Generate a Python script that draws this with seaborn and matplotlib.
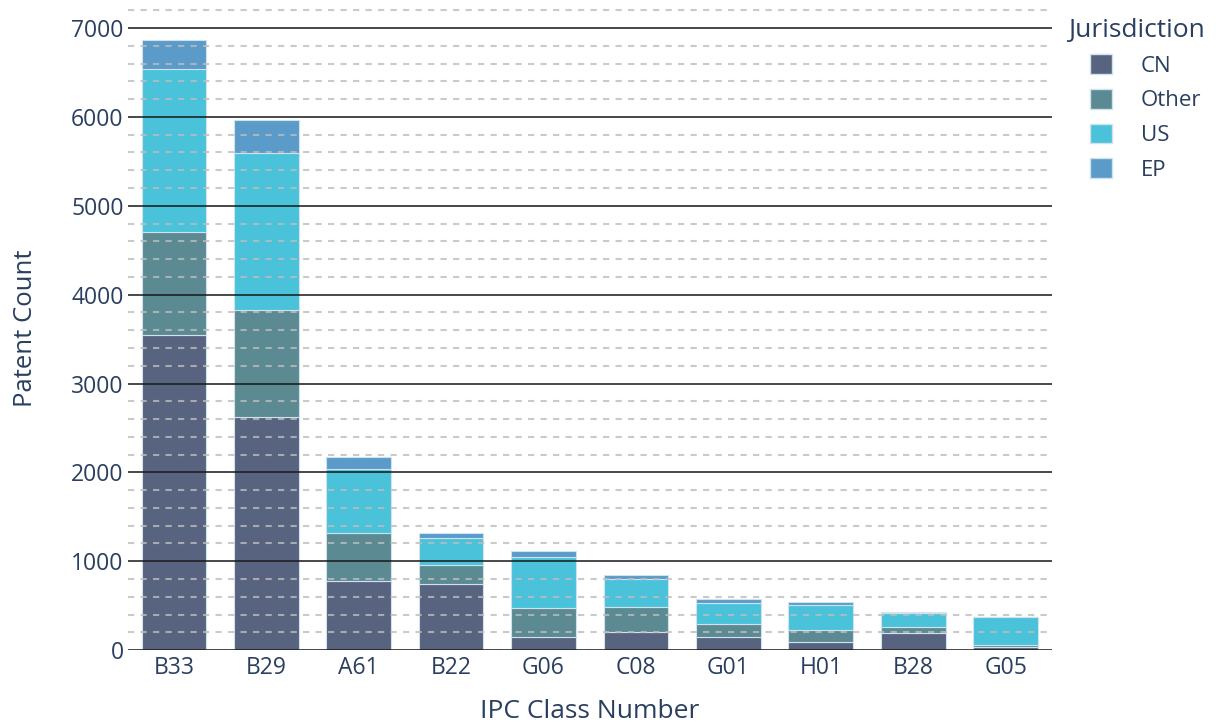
import matplotlib
matplotlib.use("Agg")
import matplotlib.pyplot as plt
from matplotlib.patches import Patch
from matplotlib.ticker import MultipleLocator
import seaborn as sns
import pandas as pd

categories = ["B33", "B29", "A61", "B22", "G06", "C08", "G01", "H01", "B28", "G05"]
cn    = [3550, 2622, 776, 743, 150, 206, 150, 94, 188, 30]
other = [1160, 1204, 537, 214, 319, 282, 143, 131, 67, 23]
us    = [1830, 1763, 724, 307, 574, 307, 240, 281, 165, 317]
ep    = [325, 381, 139, 49, 75, 49, 37, 38, 11, 5]

series_names = ["CN", "Other", "US", "EP"]
series_vals = [cn, other, us, ep]
colors = ["#58647f", "#5b8a93", "#4ac2da", "#5a9bc9"]

sns.set_theme(style="white")
plt.rcParams["font.family"] = ["Open Sans", "DejaVu Sans"]
text_color = "#2a3f5f"

W, H = 1216, 724
fig = plt.figure(figsize=(W / 100, H / 100), dpi=100)
ax = fig.add_axes([0.105, 0.102, 0.76, 0.89])

bottom = [0] * len(categories)
for name, vals, col in zip(series_names, series_vals, colors):
    df = pd.DataFrame({"cat": categories, "val": vals})
    sns.barplot(data=df, x="cat", y="val", order=categories, color=col,
                bottom=bottom, width=0.7, ax=ax, edgecolor="#cfe3ee",
                linewidth=0.8, saturation=1, zorder=1)
    bottom = [b + v for b, v in zip(bottom, vals)]

ax.set_xlim(-0.5, len(categories) - 0.5)
ax.set_ylim(0, 7250)
ax.yaxis.set_major_locator(MultipleLocator(1000))
ax.yaxis.set_minor_locator(MultipleLocator(200))
ax.grid(False)
ax.grid(which="minor", axis="y", color="#bdbdbd", linestyle=(0, (3, 3)),
        linewidth=1.5, alpha=0.8, zorder=3)
ax.grid(which="major", axis="y", color="#1a1a1a", linestyle="-",
        linewidth=1.4, alpha=0.8, zorder=3)
ax.set_axisbelow(False)
for s in ax.spines.values():
    s.set_visible(False)

ax.tick_params(axis="both", which="both", length=0, labelsize=16.5,
               labelcolor=text_color)
ax.tick_params(axis="y", pad=3)
ax.tick_params(axis="x", pad=4)
ax.set_yticks(range(0, 7001, 1000))
ax.set_xlabel("IPC Class Number", fontsize=19, color=text_color, labelpad=14)
ax.set_ylabel("Patent Count", fontsize=18.5, color=text_color, labelpad=24)

fig.text(1068 / W, 1 - 30 / H, "Jurisdiction", fontsize=19, color=text_color,
         ha="left", va="center")
handles = [Patch(facecolor=c, edgecolor="#cfe3ee", label=n)
           for n, c in zip(series_names, colors)]
leg = fig.legend(handles=handles, loc="upper left",
                 bbox_to_anchor=(1090 / W, 1 - 54 / H), frameon=False,
                 fontsize=16, handlelength=1.0, handleheight=1.0,
                 handletextpad=1.3, labelspacing=0.55, borderaxespad=0,
                 borderpad=0)
for t in leg.get_texts():
    t.set_color(text_color)

fig.savefig("out.png", dpi=100)
